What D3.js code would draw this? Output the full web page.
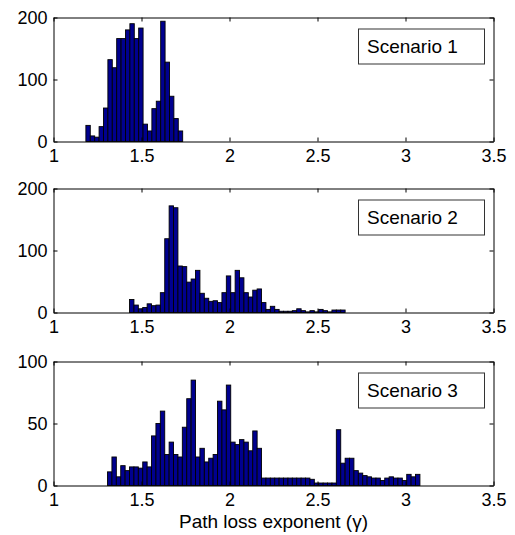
<!DOCTYPE html>
<html>
<head>
<meta charset="utf-8">
<script src="https://cdn.jsdelivr.net/npm/d3@7"></script>
<style>
  body { margin: 0; background: #fff; }
  svg { display: block; font-family: 'Liberation Sans', Arial, Helvetica, sans-serif; }
</style>
</head>
<body>
<div id="chart"></div>
<script>
// histogram counts, bins are 0.025 wide
const binWidth = 0.025;

const scenarioNames = ['Scenario 1', 'Scenario 2', 'Scenario 3'];
const binStarts = [1.184, 1.432, 1.307];

const counts1 = [26, 9, 7, 24, 54, 132, 119, 166, 166, 180, 190, 166, 183, 28, 17, 53, 65, 194, 128, 73, 37, 17];
const counts2 = [21, 12, 6, 8, 14, 11, 12, 32, 119, 172, 169, 75, 74, 49, 54, 68, 31, 23, 18, 19,
  16, 32, 59, 32, 68, 56, 32, 25, 36, 38, 16, 5, 10, 5, 2, 2, 2, 3, 6, 3, 1, 3, 1, 5, 3, 1, 4, 4, 4];
const counts3 = [11, 23, 7, 16, 12, 15, 15, 14, 19, 15, 40, 50, 60, 25, 35, 25, 23, 47, 70, 85,
  23, 30, 19, 22, 25, 68, 61, 81, 35, 33, 37, 35, 28, 44, 30, 6, 6, 6, 6, 6, 6, 6, 6, 6, 6, 6, 5,
  2, 2, 2, 2, 2, 45, 18, 22, 22, 12, 10, 8, 7, 6, 6, 4, 6, 7, 6, 6, 4, 9, 7, 9];

const yMax = [200, 200, 100];
const yTicks = [[0, 100, 200], [0, 100, 200], [0, 50, 100]];
const xTicks = [1, 1.5, 2, 2.5, 3, 3.5];
const xLabel = 'Path loss exponent (\u03b3)';

const width = 515;
const height = 535;
const margin = { left: 53.5 };
const innerWidth = 440;
const panelH = 124;
const panelTops = [17.5, 188.5, 361.5];

const svg = d3.select('#chart').append('svg')
  .attr('width', width)
  .attr('height', height);

const xScale = d3.scaleLinear()
  .domain([1, 3.5])
  .range([0, innerWidth]);

const axisConfig = AxisG => {
  AxisG.attr('font-family', null);
  AxisG.selectAll('.domain')
    .attr('stroke', '#000')
    .attr('stroke-width', 1);
  AxisG.selectAll('line')
    .attr('stroke', '#000')
    .attr('stroke-width', 1);
  AxisG.selectAll('text')
    .attr('font-size', 18)
    .attr('fill', '#000');
};

// top and right sides only carry ticks
const noLabels = AxisG => AxisG.selectAll('text').remove();

[counts1, counts2, counts3].forEach((counts, k) => {
  const g = svg.append('g')
    .attr('transform', `translate(${margin.left}, ${panelTops[k]})`);

  const yScale = d3.scaleLinear()
    .domain([0, yMax[k]])
    .range([panelH, 0]);

  const bins = counts.map((n, i) => ({
    x0: binStarts[k] + i * binWidth,
    x1: binStarts[k] + (i + 1) * binWidth,
    n
  }));

  g.selectAll('rect.bar').data(bins)
    .enter().append('rect')
      .attr('class', 'bar')
      .attr('x', d => xScale(d.x0))
      .attr('y', d => yScale(d.n))
      .attr('width', d => xScale(d.x1) - xScale(d.x0))
      .attr('height', d => yScale(0) - yScale(d.n))
      .attr('fill', '#00008f')
      .attr('stroke', '#000')
      .attr('stroke-width', 0.9);

  // box axes with inward ticks, matlab style
  g.append('g')
    .attr('transform', `translate(0, ${panelH})`)
    .call(d3.axisBottom(xScale).tickValues(xTicks).tickSizeInner(-4).tickSizeOuter(0)
      .tickPadding(8).tickFormat(d3.format('')))
    .call(axisConfig);
  g.append('g')
    .call(d3.axisTop(xScale).tickValues(xTicks).tickSizeInner(-4).tickSizeOuter(0))
    .call(axisConfig)
    .call(noLabels);
  g.append('g')
    .call(d3.axisLeft(yScale).tickValues(yTicks[k]).tickSizeInner(-4).tickSizeOuter(0)
      .tickPadding(6))
    .call(axisConfig);
  g.append('g')
    .attr('transform', `translate(${innerWidth}, 0)`)
    .call(d3.axisRight(yScale).tickValues(yTicks[k]).tickSizeInner(-4).tickSizeOuter(0))
    .call(axisConfig)
    .call(noLabels);

  const legend = g.append('g')
    .attr('transform', `translate(305, 11.5)`);
  legend.append('rect')
    .attr('width', 126)
    .attr('height', 35)
    .attr('fill', '#fff')
    .attr('stroke', '#333')
    .attr('stroke-width', 1);
  legend.append('text')
    .attr('x', 8.5)
    .attr('y', 24)
    .attr('font-size', 19)
    .attr('fill', '#000')
    .text(scenarioNames[k]);
});

svg.append('text')
  .attr('x', margin.left + innerWidth / 2)
  .attr('y', 528)
  .attr('text-anchor', 'middle')
  .attr('font-size', 19)
  .attr('fill', '#000')
  .text(xLabel);
</script>
</body>
</html>
